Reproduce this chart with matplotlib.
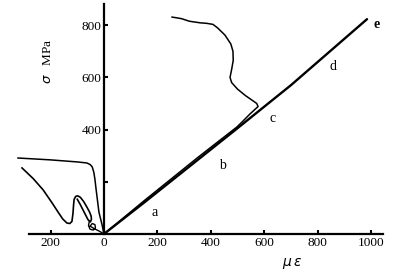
import numpy as np
import matplotlib
matplotlib.use("Agg")
import matplotlib.pyplot as plt

plt.rcParams['font.family'] = ['Liberation Serif', 'DejaVu Serif']

# main loading line a-b-c-d-e (strain in micro-strain, stress in MPa)
main_x = [0, 150, 350, 490, 700, 985]
main_y = [0, 120, 283, 397, 570, 823]

# gauge that follows the line then turns back
up_x = [0, 150, 350, 498, 520, 545, 566, 577, 572, 554, 530, 500, 478, 472, 478, 484, 483, 475, 453, 425, 408, 385, 360, 320, 290, 255]
up_y = [0, 127, 292, 410, 432, 458, 478, 488, 500, 513, 530, 555, 580, 600, 630, 665, 700, 728, 762, 790, 803, 807, 809, 815, 825, 831]

# left gauge, flat top curve
left1_x = [-322, -202, -100, -64, -52, -44, -38, -34, -30, -26, -19, -12, -7, 0]
left1_y = [291, 284, 276, 272, 266, 257, 236, 210, 175, 142, 84, 55, 34, 0]

# left gauge with the narrow loop
left2_x = [-307, -265, -228, -195, -172, -155, -139, -128, -120, -116, -114, -112, -106, -98, -88, -76, -64, -54, -48, -47, -51, -60, -75, -90, -100]
left2_y = [253, 212, 169, 120, 84, 58, 42, 40, 48, 80, 110, 132, 144, 146, 140, 124, 103, 84, 68, 56, 46, 55, 85, 115, 133]

# small loop near the origin
loop_x = [-55, -58, -52, -40, -32, -34, -44, -52, -36, -20, -8, 0]
loop_y = [48, 32, 18, 15, 24, 36, 40, 30, 20, 12, 5, 0]

pt_labels = ['a', 'b', 'c', 'd', 'e']
pt_x = [191, 442, 633, 858, 1022]
pt_y = [84, 264, 444, 640, 801]

xticks = [-200, 0, 200, 400, 600, 800, 1000]
xticklabels = ['200', '0', '200', '400', '600', '800', '1000']
yticks = [200, 400, 600, 800]
yticklabels = ['', '400', '600', '800']

fig = plt.figure(figsize=(4.11, 2.79), dpi=100)
ax = fig.add_axes([0.0321, 0.1427, 0.9226, 0.8513])
ax.set_xlim(-340, 1080)
ax.set_ylim(-20, 890)

ax.plot(main_x, main_y, color='black', lw=1.7, solid_capstyle='round')
ax.plot(up_x, up_y, color='black', lw=1.1)
ax.plot(left1_x, left1_y, color='black', lw=1.1)
ax.plot(left2_x, left2_y, color='black', lw=1.2)
ax.plot(loop_x, loop_y, color='black', lw=1.0)

for t, x, y in zip(pt_labels, pt_x, pt_y):
    ax.text(x, y, t, fontsize=10, ha='center', va='center',
            fontweight='bold' if t == 'e' else 'normal')

for s in ['top', 'right']:
    ax.spines[s].set_visible(False)
ax.spines['left'].set_position(('data', 0))
ax.spines['bottom'].set_position(('data', 0))
ax.spines['left'].set_bounds(0, 880)
ax.spines['bottom'].set_bounds(-280, 1045)
ax.spines['left'].set_linewidth(1.6)
ax.spines['bottom'].set_linewidth(1.6)

ax.set_xticks(xticks)
ax.set_xticklabels(xticklabels)
ax.set_yticks(yticks)
ax.set_yticklabels(yticklabels)
ax.tick_params(direction='in', length=3, width=1.5, labelsize=9.5, pad=2)

fig.text(0.117, 0.78, r'$\sigma$   MPa', rotation=90, fontsize=9.5,
         ha='center', va='center')
fig.text(0.71, 0.055, r'$\mu\,\varepsilon$', fontsize=10, ha='center', va='center')

fig.savefig('out.png', dpi=100)
